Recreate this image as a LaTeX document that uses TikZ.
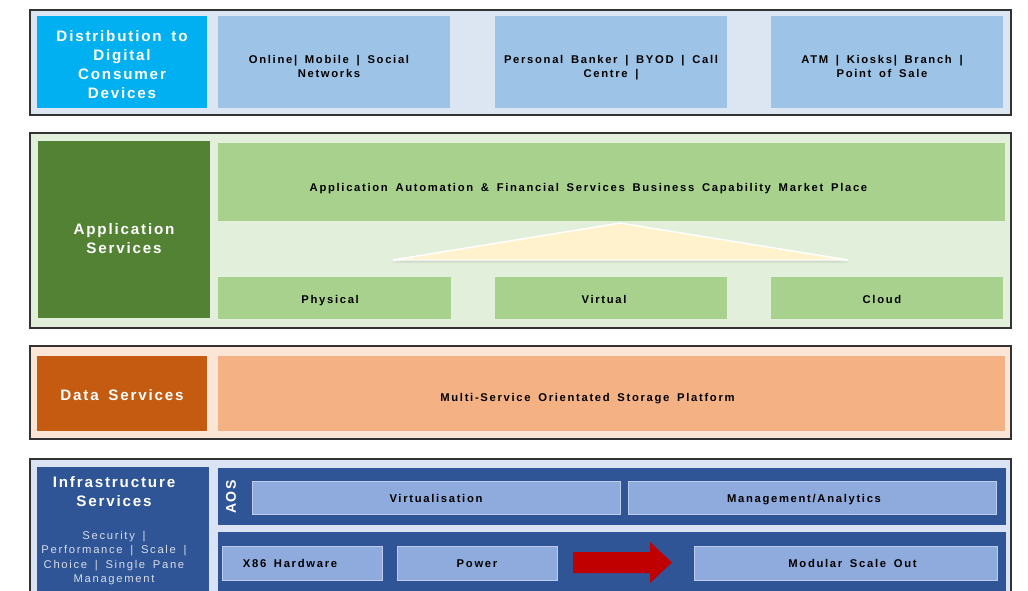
\documentclass[tikz,border=0pt]{standalone}
\usepackage{fontspec}
\setmainfont{Liberation Sans}[LetterSpace=12,WordSpace=1.6]
\newfontfamily\bodyfont{Liberation Sans}[LetterSpace=15,WordSpace=1.6]
\usetikzlibrary{shadows}
\definecolor{distbg}{HTML}{DCE6F2}
\definecolor{distcyan}{HTML}{00B0F0}
\definecolor{distbox}{HTML}{9DC3E6}
\definecolor{appbg}{HTML}{E2EFDA}
\definecolor{appdark}{HTML}{548235}
\definecolor{applight}{HTML}{A9D18E}
\definecolor{tricream}{HTML}{FFF2CC}
\definecolor{databg}{HTML}{FBE5D6}
\definecolor{datadark}{HTML}{C55A11}
\definecolor{databox}{HTML}{F4B183}
\definecolor{infrabg}{HTML}{DAE3F3}
\definecolor{infradark}{HTML}{2F5597}
\definecolor{infrabox}{HTML}{8FAADC}
\definecolor{infrasubtext}{HTML}{D6DCE5}
\definecolor{arrowred}{HTML}{C00000}
\newcommand{\firstline}[1]{\rule{0pt}{#1}}
\newcommand{\lineleft}{\hspace*{0.25cm}}
\tikzset{
  wh/.style 2 args={minimum width=#1*0.025cm,minimum height=#2*0.025cm},
  th/.style={text height=#1,text depth=0pt},
  nudgel/.style={execute at end node={\hspace*{#1}}},
  nudger/.style={execute at begin node={\hspace*{#1}}},
  panel/.style={draw=black!80,line width=0.9pt,inner sep=0pt,outer sep=0pt,anchor=north west},
  block/.style={inner sep=0pt,outer sep=0pt,anchor=north west,align=center,
    font=\bodyfont\fontsize{8}{9.5}\selectfont\bfseries},
  title/.style={block,text=white,font=\fontsize{10.8}{13.5}\selectfont\bfseries},
  infrablock/.style={block,fill=infrabox,draw=infrabox!60!white,line width=0.4pt},
}
\begin{document}
\begin{tikzpicture}[x=0.025cm,y=-0.025cm]
		\useasboundingbox (0,0) rectangle (1028,591);
		\clip (0,0) rectangle (1028,591);
		% distribution layer
		\node[panel,fill=distbg,wh={981}{105}] (dist) at (30,10) {};
		\node[title,fill=distcyan,wh={170}{92}] (distlbl) at (37,16) {\firstline{11.2pt}Distribution to\\Digital\\Consumer\\Devices};
		\node[block,fill=distbox,wh={232}{92}] (online) at (218,16) {\firstline{12.4pt}Online|  Mobile |  Social\lineleft\\Networks\lineleft};
		\node[block,fill=distbox,wh={232}{92}] (banker) at (495,16) {\firstline{14pt}Personal  Banker  | BYOD  | Call\\Centre |};
		\node[block,fill=distbox,wh={232}{92}] (atm) at (771,16) {\firstline{12.4pt}ATM | Kiosks|  Branch  |\lineleft\\Point of Sale\lineleft};
		% application layer
		\node[panel,fill=appbg,wh={981}{195}] (app) at (30,133) {};
		\node[title,fill=appdark,wh={172}{177}] (applbl) at (38,141) {\firstline{20.4pt}Application\\Services};
		\node[block,th=13pt,nudgel=1.15cm,fill=applight,wh={787}{78}] (market) at (218,143) {Application  Automation \& Financial  Services  Business  Capability  Market  Place};
		\filldraw[draw=white,line width=1pt,fill=tricream,
			drop shadow={opacity=0.12,shadow xshift=0pt,shadow yshift=-2pt,shadow scale=1.01},
			drop shadow={opacity=0.2,shadow xshift=0.5pt,shadow yshift=-1pt}]
			(393,260) -- (620,223) -- (848,260) -- cycle;
		\node[block,th=7.4pt,nudgel=0.22cm,fill=applight,wh={233}{42}] (physical) at (218,277) {Physical};
		\node[block,th=7.4pt,nudgel=0.35cm,fill=applight,wh={232}{42}] (virtual) at (495,277) {Virtual};
		\node[block,th=7.4pt,nudgel=0.25cm,fill=applight,wh={232}{42}] (cloud) at (771,277) {Cloud};
		% data layer
		\node[panel,fill=databg,wh={981}{93}] (data) at (30,346) {};
		\node[title,th=9.7pt,fill=datadark,wh={170}{75}] (datalbl) at (37,356) {Data Services};
		\node[block,th=11pt,nudgel=1.2cm,fill=databox,wh={787}{75}] (storage) at (218,356) {Multi-Service  Orientated  Storage  Platform};
		% infrastructure layer
		\node[panel,fill=infrabg,wh={981}{140}] (infra) at (30,459) {};
		\node[block,fill=infradark,wh={172}{130}] (infralbl) at (37,467) {};
		\node[title,anchor=center] (infratitle) at (114,492) {Infrastructure\\Services};
		\node[block,anchor=center,text=infrasubtext,font=\bodyfont\fontsize{8}{10.2}\selectfont] (infrasub) at (114,558)
			{Security |\\Performance  | Scale |\\Choice | Single Pane\\Management};
		\node[block,fill=infradark,wh={788}{57}] (aosband) at (218,468) {};
		\node[title,anchor=center,rotate=90,font=\fontsize{10}{12}\selectfont\bfseries] (aos) at (231,497) {AOS};
		\node[infrablock,th=6.7pt,wh={368}{33}] (virtualis) at (252,481) {Virtualisation};
		\node[infrablock,th=6.7pt,nudgel=0.4cm,wh={368}{33}] (mgmt) at (628,481) {Management/Analytics};
		\node[block,fill=infradark,wh={788}{70}] (hwband) at (218,532) {};
		\node[infrablock,th=6pt,nudgel=0.6cm,wh={160}{34}] (x86) at (222,546) {X86  Hardware};
		\node[infrablock,th=6pt,wh={160}{34}] (power) at (397,546) {Power};
		\node[infrablock,th=6pt,nudger=0.35cm,wh={303}{34}] (modular) at (694,546) {Modular  Scale  Out};
		\fill[arrowred] (573,552) -- (650,552) -- (650,542) -- (672,562.5) -- (650,583) -- (650,573) -- (573,573) -- cycle;
		\end{tikzpicture}
\end{document}
